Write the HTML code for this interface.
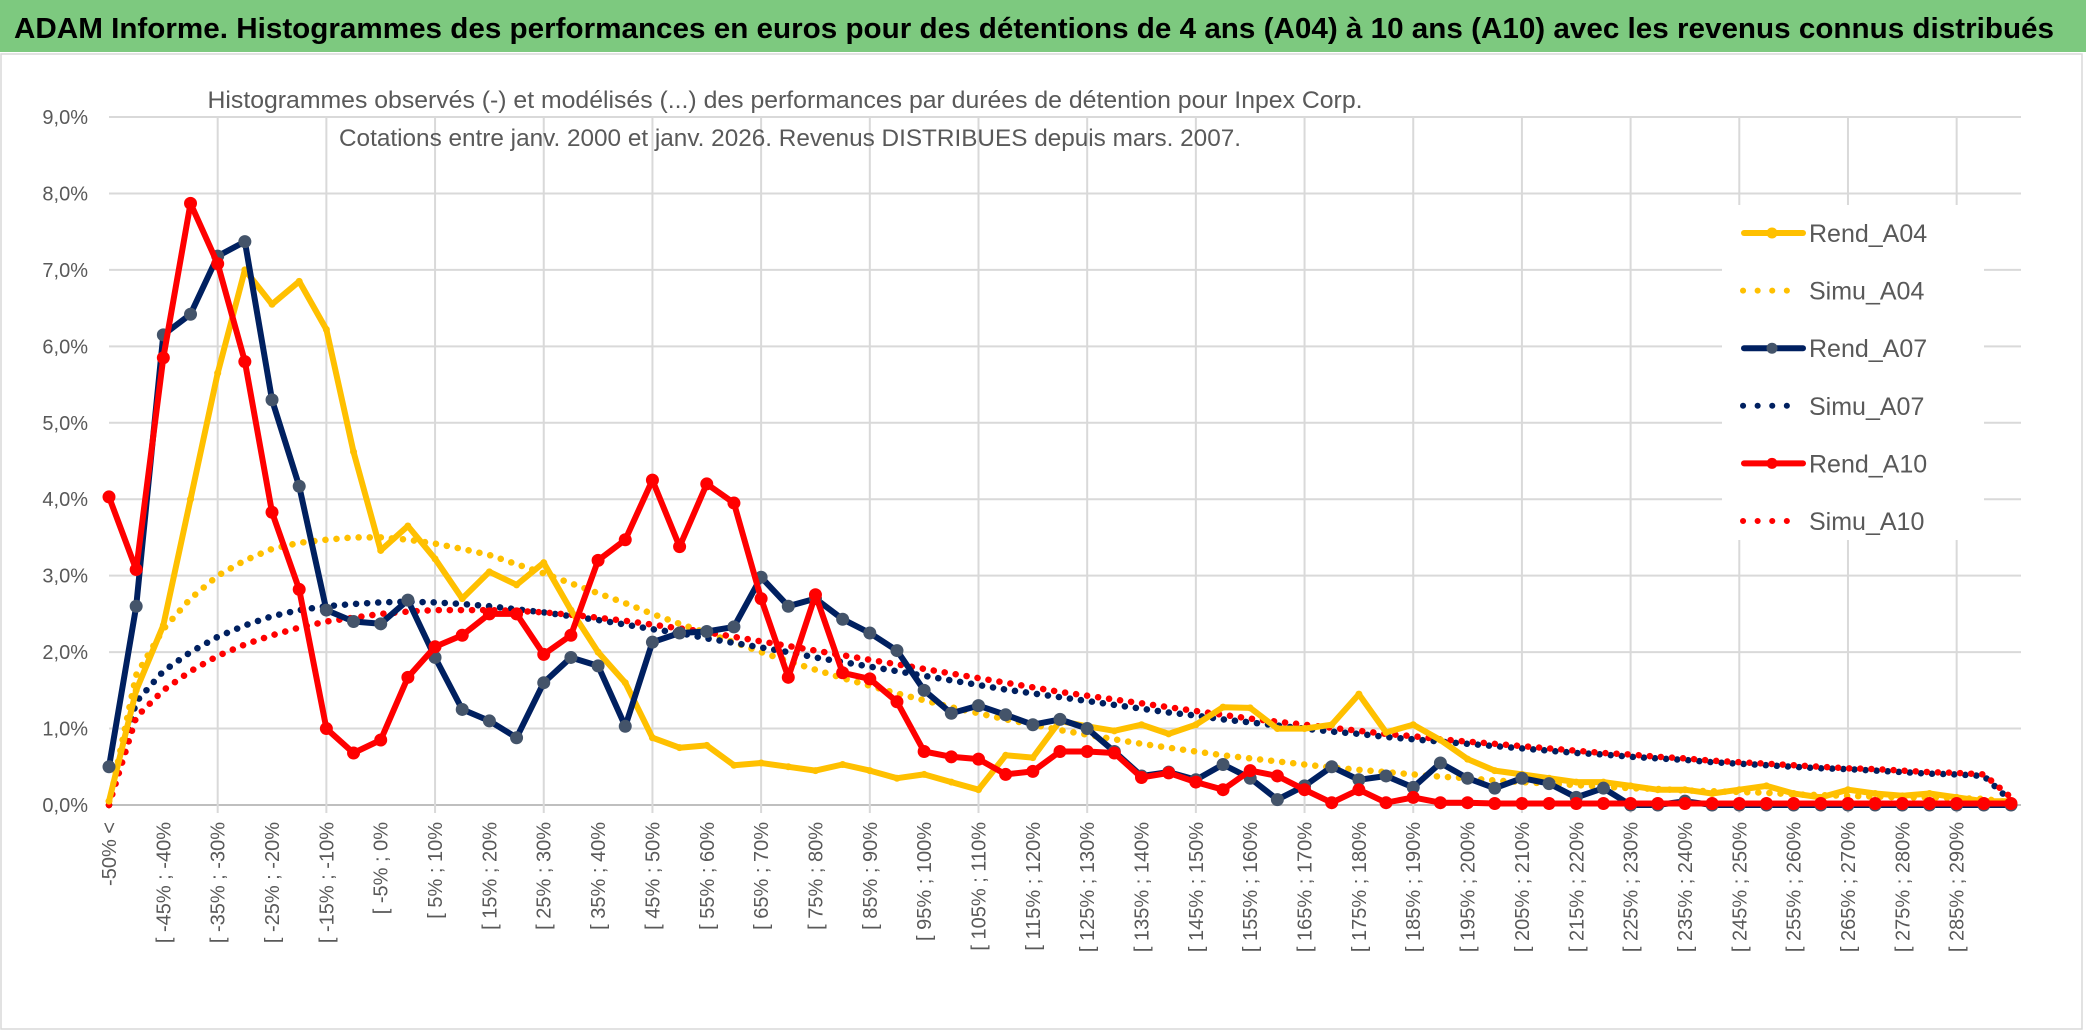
<!DOCTYPE html>
<html><head><meta charset="utf-8"><style>
html,body{margin:0;padding:0;background:#fff;}
svg{display:block;font-family:"Liberation Sans",sans-serif;}
</style></head><body>
<svg id="chart" width="2086" height="1031" viewBox="0 0 2086 1031" xmlns="http://www.w3.org/2000/svg">
<rect x="0" y="0" width="2086" height="1031" fill="#fff"/>
<rect x="0" y="0" width="2086" height="52" fill="#7dc97f"/>
<text x="14" y="38" font-size="29" font-weight="bold" fill="#000" textLength="2040" lengthAdjust="spacingAndGlyphs">ADAM Informe. Histogrammes des performances en euros pour des détentions de 4 ans (A04) à 10 ans (A10) avec les revenus connus distribués</text>
<rect x="1" y="54" width="2081" height="975" fill="none" stroke="#d9d9d9" stroke-width="1.5"/>
<g id="grid"></g>
<g id="series"></g>
<g id="axes"></g>
<rect x="1722" y="205" width="262" height="335" fill="#fff"/>
<g id="legend"></g>
<text x="785" y="108" font-size="24" fill="#595959" text-anchor="middle" textLength="1155" lengthAdjust="spacingAndGlyphs">Histogrammes observés (-) et modélisés (...) des performances par durées de détention pour Inpex Corp.</text>
<text x="790" y="146" font-size="24" fill="#595959" text-anchor="middle" textLength="902" lengthAdjust="spacingAndGlyphs">Cotations entre janv. 2000 et janv. 2026. Revenus DISTRIBUES depuis mars. 2007.</text>
</svg>
<script>
const rendA04=[0.05,1.5,2.35,4.0,5.65,7.0,6.55,6.85,6.22,4.62,3.33,3.65,3.22,2.7,3.05,2.88,3.17,2.55,2.0,1.6,0.88,0.75,0.78,0.52,0.55,0.5,0.45,0.53,0.45,0.35,0.4,0.3,0.2,0.65,0.62,1.1,1.03,0.97,1.05,0.93,1.05,1.28,1.27,1.0,1.0,1.05,1.45,0.95,1.05,0.85,0.6,0.45,0.4,0.35,0.3,0.3,0.25,0.2,0.2,0.15,0.2,0.25,0.15,0.1,0.2,0.15,0.12,0.15,0.1,0.05,0.05];
const simuA04=[0,1.7,2.3,2.7,3.0,3.2,3.35,3.43,3.47,3.5,3.5,3.47,3.42,3.35,3.27,3.15,3.03,2.9,2.77,2.64,2.5,2.37,2.25,2.13,2.0,1.88,1.77,1.66,1.56,1.46,1.37,1.28,1.2,1.12,1.05,0.98,0.92,0.86,0.8,0.75,0.7,0.65,0.61,0.57,0.53,0.49,0.46,0.43,0.4,0.37,0.35,0.32,0.3,0.28,0.26,0.24,0.22,0.21,0.19,0.18,0.17,0.16,0.14,0.13,0.12,0.11,0.1,0.1,0.09,0.08,0.03];
const rendA07=[0.5,2.6,6.15,6.42,7.18,7.37,5.3,4.17,2.55,2.4,2.37,2.68,1.93,1.25,1.1,0.88,1.6,1.93,1.82,1.03,2.13,2.25,2.27,2.33,2.98,2.6,2.7,2.43,2.25,2.02,1.5,1.2,1.3,1.18,1.05,1.12,1.0,0.7,0.38,0.43,0.33,0.53,0.35,0.07,0.25,0.5,0.33,0.38,0.23,0.55,0.35,0.22,0.35,0.28,0.1,0.22,0,0,0.05,0,0,0,0,0,0,0,0,0,0,0,0];
const simuA07=[0,1.35,1.75,2.0,2.2,2.35,2.47,2.55,2.6,2.63,2.65,2.66,2.65,2.63,2.6,2.56,2.52,2.47,2.42,2.36,2.3,2.25,2.18,2.12,2.06,2.0,1.93,1.87,1.81,1.75,1.69,1.63,1.57,1.51,1.46,1.41,1.36,1.31,1.26,1.21,1.17,1.12,1.08,1.04,1.0,0.96,0.93,0.89,0.86,0.83,0.8,0.77,0.74,0.71,0.68,0.66,0.63,0.61,0.59,0.56,0.54,0.52,0.5,0.48,0.47,0.45,0.43,0.41,0.4,0.38,0.05];
const rendA10=[4.03,3.08,5.85,7.87,7.08,5.8,3.83,2.82,1.0,0.68,0.85,1.67,2.07,2.22,2.5,2.5,1.97,2.22,3.2,3.47,4.25,3.38,4.2,3.95,2.7,1.67,2.75,1.73,1.65,1.35,0.7,0.63,0.6,0.4,0.44,0.7,0.7,0.68,0.36,0.42,0.3,0.2,0.45,0.38,0.2,0.03,0.2,0.03,0.1,0.03,0.03,0.02,0.02,0.02,0.02,0.02,0.02,0.02,0.02,0.02,0.02,0.02,0.02,0.02,0.02,0.02,0.02,0.02,0.02,0.02,0.02];
const simuA10=[0,1.15,1.5,1.75,1.95,2.1,2.22,2.32,2.4,2.45,2.5,2.53,2.55,2.55,2.55,2.54,2.52,2.49,2.45,2.41,2.36,2.31,2.26,2.2,2.14,2.08,2.02,1.96,1.9,1.84,1.78,1.72,1.66,1.6,1.54,1.48,1.43,1.38,1.33,1.28,1.23,1.18,1.13,1.09,1.05,1.01,0.97,0.93,0.9,0.86,0.83,0.8,0.77,0.74,0.71,0.68,0.66,0.63,0.61,0.58,0.56,0.54,0.52,0.5,0.48,0.47,0.45,0.43,0.42,0.4,0.1];
const yTicks=[0,1,2,3,4,5,6,7,8,9];
const binStart=-50, binWidth=5;
const nCats=rendA04.length;

const NS="http://www.w3.org/2000/svg";
const X0=109,X1=2011,Y0=805,Y9=117;
function xs(i){return X0+(X1-X0)*i/(nCats-1);}
function ys(v){return Y0-(Y0-Y9)*v/9;}
function mk(tag,attrs,parent){const e=document.createElementNS(NS,tag);for(const k in attrs)e.setAttribute(k,attrs[k]);parent.appendChild(e);return e;}
function pct(v){return v.toFixed(1).replace('.',',')+'%';}
function catLabel(i){if(i===0)return '-50% <';const lo=binStart+binWidth*(i-1);return '[ '+lo+'% ; '+(lo+binWidth)+'%';}

const grid=document.getElementById('grid'),axes=document.getElementById('axes'),series=document.getElementById('series'),legend=document.getElementById('legend');
yTicks.forEach(t=>{
  const l=mk('line',{x1:X0,x2:X1+10,y1:ys(t),y2:ys(t),stroke:t===0?'#bfbfbf':'#d9d9d9','stroke-width':2},grid);
  
  
  const tx=mk('text',{x:88,y:ys(t)+7,'font-size':20,fill:'#595959','text-anchor':'end'},axes);
  tx.textContent=pct(t);
  
  
});
for(let i=4;i<nCats;i+=4){
  const l=mk('line',{x1:xs(i),x2:xs(i),y1:Y9,y2:Y0+8,stroke:'#d9d9d9','stroke-width':2},grid);
  
  
}
for(let i=0;i<nCats-1;i+=2){
  const tx=mk('text',{x:0,y:0,'font-size':20,fill:'#595959','text-anchor':'end',transform:'translate('+(xs(i)+7)+',822) rotate(-90)'},axes);
  tx.textContent=catLabel(i);
  
  
}
function pts(arr){return arr.map((v,i)=>xs(i).toFixed(1)+','+ys(v).toFixed(1)).join(' ');}
function dotted(arr,color,name){
  const p=mk('polyline',{points:pts(arr),fill:'none',stroke:color,'stroke-width':6.5,'stroke-dasharray':'0.1 11','stroke-linecap':'round'},series);
  
  
}
function solid(arr,color,mcolor,r,name){
  const p=mk('polyline',{points:pts(arr),fill:'none',stroke:color,'stroke-width':6,'stroke-linejoin':'round'},series);
  
  
  if(r>0)arr.forEach((v,i)=>{
    const c=mk('circle',{cx:xs(i),cy:ys(v),r:r,fill:mcolor},series);
    
    
  });
}
dotted(simuA04,'#ffc000','simu-a04-line');
dotted(simuA07,'#002060','simu-a07-line');
dotted(simuA10,'#ff0000','simu-a10-line');
solid(rendA04,'#ffc000','#ffc000',3.5,'rend-a04-line');
solid(rendA07,'#002060','#44546a',6.5,'rend-a07-line');
solid(rendA10,'#ff0000','#ff0000',6.5,'rend-a10-line');

const legNames=['Rend_A04','Simu_A04','Rend_A07','Simu_A07','Rend_A10','Simu_A10'];
const legColors=['#ffc000','#ffc000','#002060','#002060','#ff0000','#ff0000'];
legNames.forEach((n,k)=>{
  const y=233+k*57.6;
  const g=mk('g',{},legend);
  
  
  if(k%2===0){
    mk('line',{x1:1744,x2:1803,y1:y,y2:y,stroke:legColors[k],'stroke-width':6,'stroke-linecap':'round'},g);
    mk('circle',{cx:1772,cy:y,r:5.5,fill:k===2?'#44546a':legColors[k]},g);
  } else {
    mk('line',{x1:1743,x2:1800,y1:y,y2:y,stroke:legColors[k],'stroke-width':6,'stroke-dasharray':'0.1 14.5','stroke-linecap':'round'},g);
  }
  const t=mk('text',{x:1809,y:y+9,'font-size':25,fill:'#595959'},g);
  t.textContent=n;
});
</script>
</body></html>
